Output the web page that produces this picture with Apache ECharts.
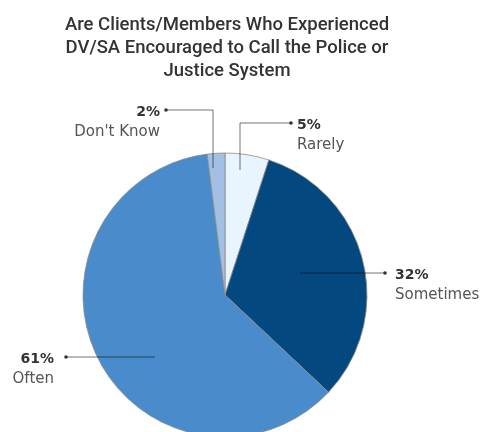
<!DOCTYPE html>
<html>
<head>
<meta charset="utf-8">
<script src="https://cdn.jsdelivr.net/npm/echarts@6/dist/echarts.min.js"></script>
<style>
html, body { margin: 0; padding: 0; background: #fff; }
#main { width: 482px; height: 432px; }
</style>
</head>
<body>
<div id="main"></div>
<script>
// data
var categories = ['Rarely', 'Sometimes', 'Often', "Don't Know"];
var percents = [5, 32, 61, 2];
var sliceColors = ['#e8f4fe', '#03497f', '#4a8ccb', '#a4bfe4'];

// callouts: leader line (start inside slice -> elbow -> dot) and where the text sits
var callouts = [
    { pts: [[240, 170], [240, 123], [291, 123]], tx: 297, align: 'left' },
    { pts: [[300, 273], [385, 273]], tx: 395, align: 'left' },
    { pts: [[155, 357], [66, 357]], tx: 54, align: 'right' },
    { pts: [[213, 168], [213, 110], [166, 110]], tx: 160, align: 'right' }
];

var graphics = [];
callouts.forEach(function (c, i) {
    var end = c.pts[c.pts.length - 1];
    graphics.push({
        type: 'polyline', z: 10,
        shape: { points: c.pts },
        style: { stroke: 'rgba(0,0,0,0.55)', lineWidth: 1, fill: null }
    });
    graphics.push({
        type: 'circle', z: 10,
        shape: { cx: end[0], cy: end[1], r: 1.8 },
        style: { fill: '#333' }
    });
    graphics.push({
        type: 'text', z: 10, x: c.tx, y: end[1] + 2,
        style: {
            text: percents[i] + '%', align: c.align, verticalAlign: 'middle',
            font: 'bold 14px "DejaVu Sans"', fill: '#333'
        }
    });
    graphics.push({
        type: 'text', z: 10, x: c.tx, y: end[1] + 22,
        style: {
            text: categories[i], align: c.align, verticalAlign: 'middle',
            font: '15px "DejaVu Sans"', fill: '#555'
        }
    });
});

var chart = echarts.init(document.getElementById('main'));
chart.setOption({
    animation: false,
    title: {
        text: 'Are Clients/Members Who Experienced\nDV/SA Encouraged to Call the Police or\nJustice System',
        left: 222,
        top: 9,
        textAlign: 'center',
        textStyle: {
            fontFamily: 'Roboto',
            fontWeight: 500,
            fontSize: 18.5,
            lineHeight: 23,
            color: '#333'
        }
    },
    graphic: graphics,
    series: [{
        type: 'pie',
        center: [225, 295],
        radius: 142,
        startAngle: 90,
        clockwise: true,
        itemStyle: { borderColor: '#8a8a8a', borderWidth: 0.8 },
        emphasis: { disabled: true },
        label: { show: false },
        labelLine: { show: false },
        data: categories.map(function (c, i) {
            return { name: c, value: percents[i], itemStyle: { color: sliceColors[i] } };
        })
    }]
});
</script>
</body>
</html>
